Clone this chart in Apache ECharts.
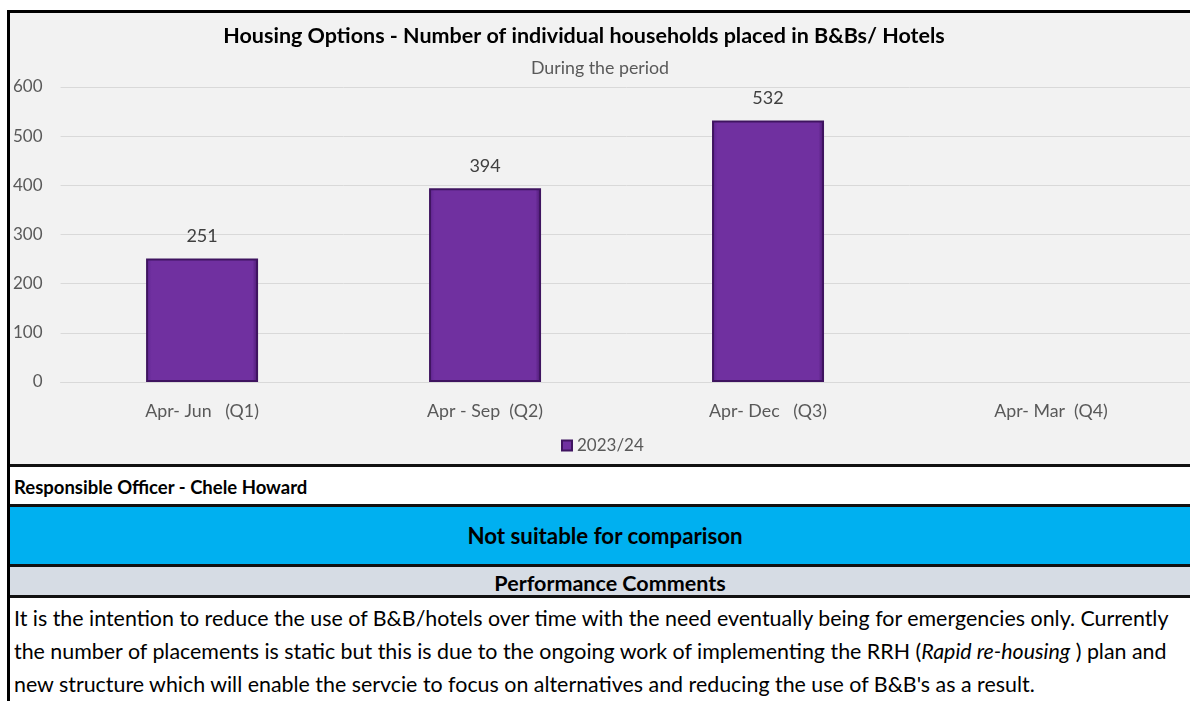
<!DOCTYPE html>
<html>
<head>
<meta charset="utf-8">
<script src="https://cdn.jsdelivr.net/npm/echarts@6/dist/echarts.min.js"></script>
<style>
  body { margin: 0; background: #fff; font-family: Lato, 'Open Sans', sans-serif; overflow: hidden; }
  #wrap { position: absolute; left: 7px; top: 10px; width: 1200px; border-left: 3px solid #000; border-top: 3px solid #000; }
  #chart { width: 1183px; height: 451px; background: #f2f2f2; }
  .row { border-top: 3px solid #111; box-sizing: border-box; }
  #officer { height: 40px; background: #fff; font-weight: bold; font-size: 18.5px; line-height: 40px; padding-left: 4px; color: #000; }
  #compare { height: 60px; background: #00b0f0; font-weight: bold; font-size: 22.3px; line-height: 58px; text-align: center; padding-right: 10px; }
  #perf { height: 34px; background: #d6dce4; font-weight: bold; font-size: 21.5px; line-height: 33px; text-align: center; border-bottom: 3px solid #111; }
  #comments { font-size: 21.4px; line-height: 33px; padding: 4px 0 0 4px; color: #000; white-space: nowrap; }
</style>
</head>
<body>
<div id="wrap">
  <div id="chart"></div>
  <div class="row" id="officer">Responsible Officer - Chele Howard</div>
  <div class="row" id="compare">Not suitable for comparison</div>
  <div class="row" id="perf">Performance Comments</div>
  <div id="comments">It is the intention to reduce the use of B&amp;B/hotels over time with the need eventually being for emergencies only. Currently<br>the number of placements is static but this is due to the ongoing work of implementing the RRH (<i>Rapid re-housing</i> ) plan and<br>new structure which will enable the servcie to focus on alternatives and reducing the use of B&amp;B's as a result.</div>
</div>
<script>
const categories = ['Apr- Jun   (Q1)', 'Apr - Sep  (Q2)', 'Apr- Dec   (Q3)', 'Apr- Mar  (Q4)']
const values = [251, 394, 532, null]
const seriesName = '2023/24'

const chart = echarts.init(document.getElementById('chart'))
chart.setOption({
  backgroundColor: '#f2f2f2',
  textStyle: { fontFamily: 'Lato' },
  title: [
    {
      text: 'Housing Options - Number of individual households placed in B&Bs/ Hotels',
      left: 569, top: 7, textAlign: 'center',
      textStyle: { fontSize: 21.5, fontWeight: 'bold', color: '#000' },
    },
    {
      text: 'During the period',
      left: 585, top: 41, textAlign: 'center',
      textStyle: { fontSize: 17.8, fontWeight: 'normal', color: '#595959' },
    },
  ],
  legend: {
    data: [seriesName],
    left: 546, top: 419,
    itemWidth: 10, itemHeight: 10, itemGap: 4,
    icon: 'rect',
    textStyle: { fontSize: 17, color: '#595959' },
  },
  grid: { left: 50.5, right: 0.5, top: 74, height: 295, containLabel: false },
  xAxis: {
    type: 'category',
    data: categories,
    axisLine: { lineStyle: { color: '#d9d9d9' } },
    axisTick: { show: false },
    axisLabel: { fontSize: 17.8, color: '#595959', margin: 20 },
  },
  yAxis: {
    type: 'value',
    min: 0, max: 600, interval: 100,
    axisLabel: { fontSize: 17, color: '#595959', align: 'right', margin: 18 },
    splitLine: { lineStyle: { color: '#d9d9d9', width: 1 } },
  },
  series: [
    {
      name: seriesName,
      type: 'bar',
      data: values,
      barWidth: 112,
      itemStyle: {
        color: {
          type: 'linear', x: 0, y: 0, x2: 1, y2: 0,
          colorStops: [
            { offset: 0, color: '#5e2490' },
            { offset: 0.05, color: '#7030a0' },
            { offset: 0.95, color: '#7030a0' },
            { offset: 1, color: '#4a1870' },
          ],
        },
        borderColor: '#3f1460',
        borderWidth: 2,
      },
      label: {
        show: true, position: 'top', distance: 13,
        fontSize: 18, color: '#404040',
      },
    },
  ],
})
window.onresize = function () { chart.resize() }
</script>
</body>
</html>
